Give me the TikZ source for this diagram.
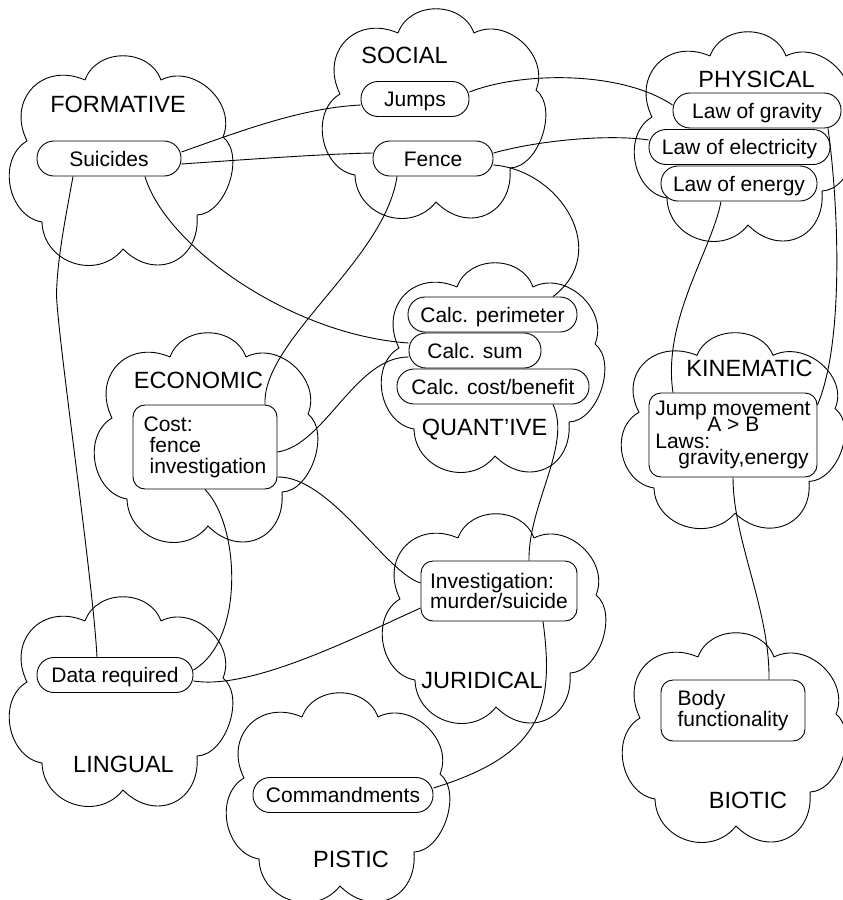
\documentclass[tikz,border=0pt]{standalone}
\usepackage{fontspec}
\setmainfont{Liberation Sans}
\usetikzlibrary{calc}
\AtBeginDocument{\lineskiplimit=-50pt\lineskip=0pt}
\newcommand\cloudat[3]{%
\draw[shift={(#1,#2)}, yscale=#3] (-36,-81) to[bend left=70,looseness=1.16] (40,-81)
 to[bend left=70,looseness=1.12] (102,-24) to[bend left=70,looseness=0.9] (76,54)
 to[bend left=70,looseness=1.45] (2,88) to[bend left=70,looseness=1.23] (-79,61)
 to[bend left=70,looseness=1.09] (-94,-20) to[bend left=70,looseness=1.41] (-36,-81);}
\begin{document}
\begin{tikzpicture}[x=1pt,y=-1pt,line width=0.9pt,line join=round,
  pill/.style={draw, rounded corners=17pt, inner sep=0pt, minimum height=35pt,
    font=\fontsize{21}{25}\selectfont, text height=15pt, text depth=0pt},
  rbox/.style={draw, rounded corners=12pt, inner sep=0pt, align=left,
    font=\fontsize{21}{21}\selectfont},
  title/.style={font=\fontsize{23.5}{28}\selectfont, anchor=base, inner sep=0pt}]
\useasboundingbox (0,0) rectangle (843,900);
% clouds
\cloudat{121}{161}{1}
\cloudat{434}{114}{1}
\cloudat{746}{137}{1}
\cloudat{206}{438}{1}
\cloudat{493}{368}{1}
\cloudat{733}{431}{0.934}
\cloudat{121}{702}{1}
\cloudat{494}{619}{1}
\cloudat{338}{798}{1}
\cloudat{734}{738}{1}
% titles
\node[title] (tform) at (118,112) {FORMATIVE};
\node[title] (tsoc) at (404.5,63) {SOCIAL};
\node[title] (tphys) at (756.5,87) {PHYSICAL};
\node[title] (tecon) at (198.5,388) {ECONOMIC};
\node[title] (tquant) at (484.5,435) {QUANT’IVE};
\node[title] (tkin) at (749.5,376) {KINEMATIC};
\node[title] (tling) at (123.5,772) {LINGUAL};
\node[title] (tjur) at (482,688) {JURIDICAL};
\node[title] (tpist) at (351,867) {PISTIC};
\node[title] (tbio) at (748,808) {BIOTIC};
% boxes
\node[pill, minimum width=144pt] (suic) at (109,158.5) {Suicides};
\node[pill, minimum width=108pt] (jumps) at (415,99) {Jumps};
\node[pill, minimum width=120pt] (fence) at (433,158.5) {Fence};
\node[pill, minimum width=168pt] (grav) at (757,110.5) {Law of gravity};
\node[pill, minimum width=181pt] (elec) at (739.5,147) {Law of electricity};
\node[pill, minimum width=156pt] (energ) at (739,183.5) {Law of energy};
\node[pill, minimum width=169pt] (perim) at (492.5,314.5) {Calc. perimeter};
\node[pill, minimum width=132pt] (csum) at (475,350.5) {Calc. sum};
\node[pill, minimum width=192pt] (cben) at (493,386.5) {Calc. cost/benefit};
\node[pill, minimum width=156pt] (data) at (115,675) {Data required};
\node[pill, minimum width=180pt] (cmd) at (343,795) {Commandments};
\node[rbox, minimum width=144pt, minimum height=84pt] (cost) at (205,447)
  {Cost:\\ \hspace*{6pt}fence\\ \hspace*{6pt}investigation};
\node[rbox, minimum width=168pt, minimum height=84pt,
  font=\fontsize{21}{16.3}\selectfont] (kin) at (733,435)
  {Jump movement\\ \hspace*{52pt}A > B\\ Laws:\\ \hspace*{23pt}gravity,energy};
\node[rbox, minimum width=156pt, minimum height=60pt,
  font=\fontsize{21}{20}\selectfont] (inv) at (499,591)
  {Investigation:\\ murder/suicide};
\node[rbox, minimum width=144pt, minimum height=61pt] (body) at (733,710.5)
  {Body\\ functionality};
% connectors
\draw ([yshift=6.5pt]suic.east) .. controls (241,131) and (301,108) .. ([yshift=-6pt]jumps.west);
\draw ([yshift=-5.5pt]suic.east) .. controls (240,160) and (320,154) .. ([yshift=5.5pt]fence.west);
\draw ([yshift=7pt]jumps.east) .. controls (520,72) and (620,70) .. ([yshift=5.5pt]grav.west);
\draw ([yshift=5.5pt]fence.east) .. controls (540,140) and (610,134) .. ([yshift=7pt]elec.west);
\draw ([yshift=-6.5pt]fence.east) .. controls (560,170) and (612,252) .. ([xshift=60.5pt]perim.north);
\draw ([xshift=-36pt]fence.south) .. controls (385,260) and (262,340) .. ([xshift=60pt]cost.north);
\draw ([yshift=-5pt]cost.east) .. controls (325,445) and (355,357) .. ([yshift=-6.5pt]csum.west);
\draw ([xshift=36pt]suic.south) .. controls (165,245) and (290,335) .. ([yshift=7.5pt]csum.west);
\draw ([xshift=-36pt]suic.south) .. controls (66,215) and (57,260) .. (56.5,295)
  .. controls (58,340) and (93,580) .. ([xshift=-18pt]data.north);
\draw (cost.south) .. controls (240,525) and (245,640) .. ([yshift=5pt]data.east);
\draw ([yshift=-30pt]cost.east) .. controls (330,476) and (385,572) .. ([yshift=8pt]inv.west);
\draw ([yshift=-6pt]data.east) .. controls (250,690) and (350,640) .. ([yshift=-17pt]inv.west);
\draw ([xshift=60pt]cben.south) .. controls (572,445) and (528,505) .. ([xshift=30pt]inv.north);
\draw ([xshift=44pt]inv.south) .. controls (555,710) and (540,755) .. ([yshift=7pt]cmd.east);
\draw ([xshift=-18pt]energ.south) .. controls (712,250) and (662,320) .. ([xshift=-60pt]kin.north);
\draw ([xshift=71pt]grav.south) .. controls (838,200) and (845,340) .. ([yshift=30pt]kin.east);
\draw (kin.south) .. controls (733,540) and (770,610) .. ([xshift=36pt]body.north);
\end{tikzpicture}
\end{document}
